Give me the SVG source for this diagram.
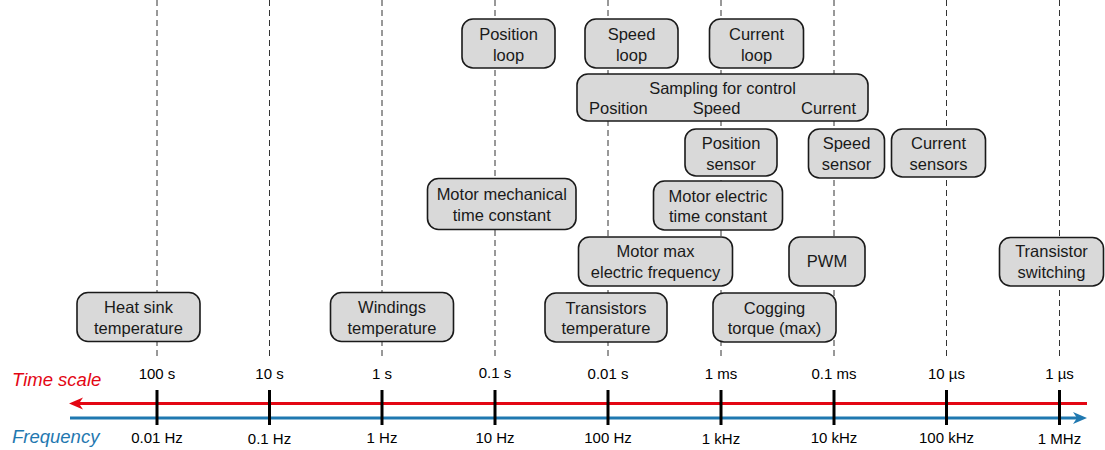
<svg xmlns="http://www.w3.org/2000/svg" width="1105" height="450" viewBox="0 0 1105 450">
<style>
.grid{stroke:#333;stroke-width:1;stroke-dasharray:6 4;fill:none}
.box rect{fill:#d9d9d9;stroke:#1a1a1a;stroke-width:1.6}
.box text{font-family:"Liberation Sans",Arial,sans-serif;font-size:16.5px;fill:#1a1a1a;text-anchor:middle}
.tick{stroke:#000;stroke-width:3}
.tl{font-family:"Liberation Sans",Arial,sans-serif;font-size:15px;fill:#000;text-anchor:middle}
.axlab{font-family:"Liberation Sans",Arial,sans-serif;font-size:18.5px;font-style:italic}
</style>
<rect width="1105" height="450" fill="#fff"/>
<g id="gridlines">
<line class="grid" x1="157" y1="0" x2="157" y2="360"/>
<line class="grid" x1="269.5" y1="0" x2="269.5" y2="360"/>
<line class="grid" x1="382" y1="0" x2="382" y2="360"/>
<line class="grid" x1="495" y1="0" x2="495" y2="360"/>
<line class="grid" x1="608" y1="0" x2="608" y2="360"/>
<line class="grid" x1="721" y1="0" x2="721" y2="360"/>
<line class="grid" x1="834" y1="0" x2="834" y2="360"/>
<line class="grid" x1="946.5" y1="0" x2="946.5" y2="360"/>
<line class="grid" x1="1059.5" y1="0" x2="1059.5" y2="360"/>
</g>
<g id="connectors">
<line x1="1087" y1="403.5" x2="78" y2="403.5" stroke="#e30613" stroke-width="3"/>
<polygon points="69,403.5 83,397.5 79,403.5 83,409.5" fill="#e30613"/>
<line x1="70" y1="418" x2="1078" y2="418" stroke="#1f78b0" stroke-width="3"/>
<polygon points="1087,418 1073,412 1077,418 1073,424" fill="#1f78b0"/>
</g>
<g id="ticks">
<line class="tick" x1="157" y1="390" x2="157" y2="425"/>
<line class="tick" x1="269.5" y1="390" x2="269.5" y2="425"/>
<line class="tick" x1="382" y1="390" x2="382" y2="425"/>
<line class="tick" x1="495" y1="390" x2="495" y2="425"/>
<line class="tick" x1="608" y1="390" x2="608" y2="425"/>
<line class="tick" x1="721" y1="390" x2="721" y2="425"/>
<line class="tick" x1="834" y1="390" x2="834" y2="425"/>
<line class="tick" x1="946.5" y1="390" x2="946.5" y2="425"/>
<line class="tick" x1="1059.5" y1="390" x2="1059.5" y2="425"/>
</g>
<g id="time-labels">
<text class="tl" x="157" y="379">100 s</text>
<text class="tl" x="269.5" y="379">10 s</text>
<text class="tl" x="382" y="379">1 s</text>
<text class="tl" x="495" y="378">0.1 s</text>
<text class="tl" x="608" y="379">0.01 s</text>
<text class="tl" x="721" y="379">1 ms</text>
<text class="tl" x="834" y="379">0.1 ms</text>
<text class="tl" x="946.5" y="379">10 µs</text>
<text class="tl" x="1059.5" y="379">1 µs</text>
</g>
<g id="freq-labels">
<text class="tl" x="157" y="443">0.01 Hz</text>
<text class="tl" x="269.5" y="444">0.1 Hz</text>
<text class="tl" x="382" y="443">1 Hz</text>
<text class="tl" x="495" y="443">10 Hz</text>
<text class="tl" x="608" y="443">100 Hz</text>
<text class="tl" x="721" y="444">1 kHz</text>
<text class="tl" x="834" y="443">10 kHz</text>
<text class="tl" x="946.5" y="443">100 kHz</text>
<text class="tl" x="1059.5" y="444">1 MHz</text>
</g>
<text class="axlab" x="12" y="386" fill="#e30613">Time scale</text>
<text class="axlab" x="12" y="443" fill="#1f78b0">Frequency</text>
<g id="position-loop" class="box"><rect x="462" y="19" width="93" height="49" rx="11"/><text x="508.5" y="40">Position</text><text x="508.5" y="61">loop</text></g>
<g id="speed-loop" class="box"><rect x="585" y="19" width="93" height="49" rx="11"/><text x="631.5" y="40">Speed</text><text x="631.5" y="61">loop</text></g>
<g id="current-loop" class="box"><rect x="709.5" y="19" width="94" height="49" rx="11"/><text x="756.5" y="40">Current</text><text x="756.5" y="61">loop</text></g>
<g id="sampling" class="box"><rect x="577" y="74" width="291" height="47" rx="11"/><text x="722.5" y="94">Sampling for control</text><text x="589" y="114" style="text-anchor:start">Position</text><text x="716.5" y="114">Speed</text><text x="856" y="114" style="text-anchor:end">Current</text></g>
<g id="position-sensor" class="box"><rect x="685" y="129" width="92" height="47" rx="11"/><text x="731" y="149">Position</text><text x="731" y="170">sensor</text></g>
<g id="speed-sensor" class="box"><rect x="808.5" y="129" width="76" height="49" rx="11"/><text x="846.5" y="149">Speed</text><text x="846.5" y="170">sensor</text></g>
<g id="current-sensors" class="box"><rect x="891.5" y="129" width="94" height="48" rx="11"/><text x="938.5" y="149">Current</text><text x="938.5" y="170">sensors</text></g>
<g id="motor-mechanical" class="box"><rect x="427.5" y="178.5" width="148.5" height="51" rx="11"/><text x="501.75" y="200">Motor mechanical</text><text x="501.75" y="221">time constant</text></g>
<g id="motor-electric" class="box"><rect x="653.5" y="181" width="129" height="49" rx="11"/><text x="718" y="202">Motor electric</text><text x="718" y="222">time constant</text></g>
<g id="motor-max-freq" class="box"><rect x="578.5" y="237" width="154" height="49" rx="11"/><text x="655.5" y="257">Motor max</text><text x="655.5" y="278">electric frequency</text></g>
<g id="pwm" class="box"><rect x="789" y="237" width="76" height="49" rx="11"/><text x="827" y="267">PWM</text></g>
<g id="transistor-switching" class="box"><rect x="999.5" y="237.5" width="104" height="48.5" rx="11"/><text x="1051.5" y="257">Transistor</text><text x="1051.5" y="278">switching</text></g>
<g id="heat-sink" class="box"><rect x="77" y="292.5" width="123" height="49" rx="11"/><text x="138.5" y="313">Heat sink</text><text x="138.5" y="334">temperature</text></g>
<g id="windings" class="box"><rect x="330.5" y="292.5" width="123" height="49" rx="11"/><text x="392" y="313">Windings</text><text x="392" y="334">temperature</text></g>
<g id="transistors-temp" class="box"><rect x="545" y="293" width="122" height="49" rx="11"/><text x="606" y="314">Transistors</text><text x="606" y="334">temperature</text></g>
<g id="cogging" class="box"><rect x="713" y="293" width="123" height="49" rx="11"/><text x="774.5" y="314">Cogging</text><text x="774.5" y="334">torque (max)</text></g>
</svg>
